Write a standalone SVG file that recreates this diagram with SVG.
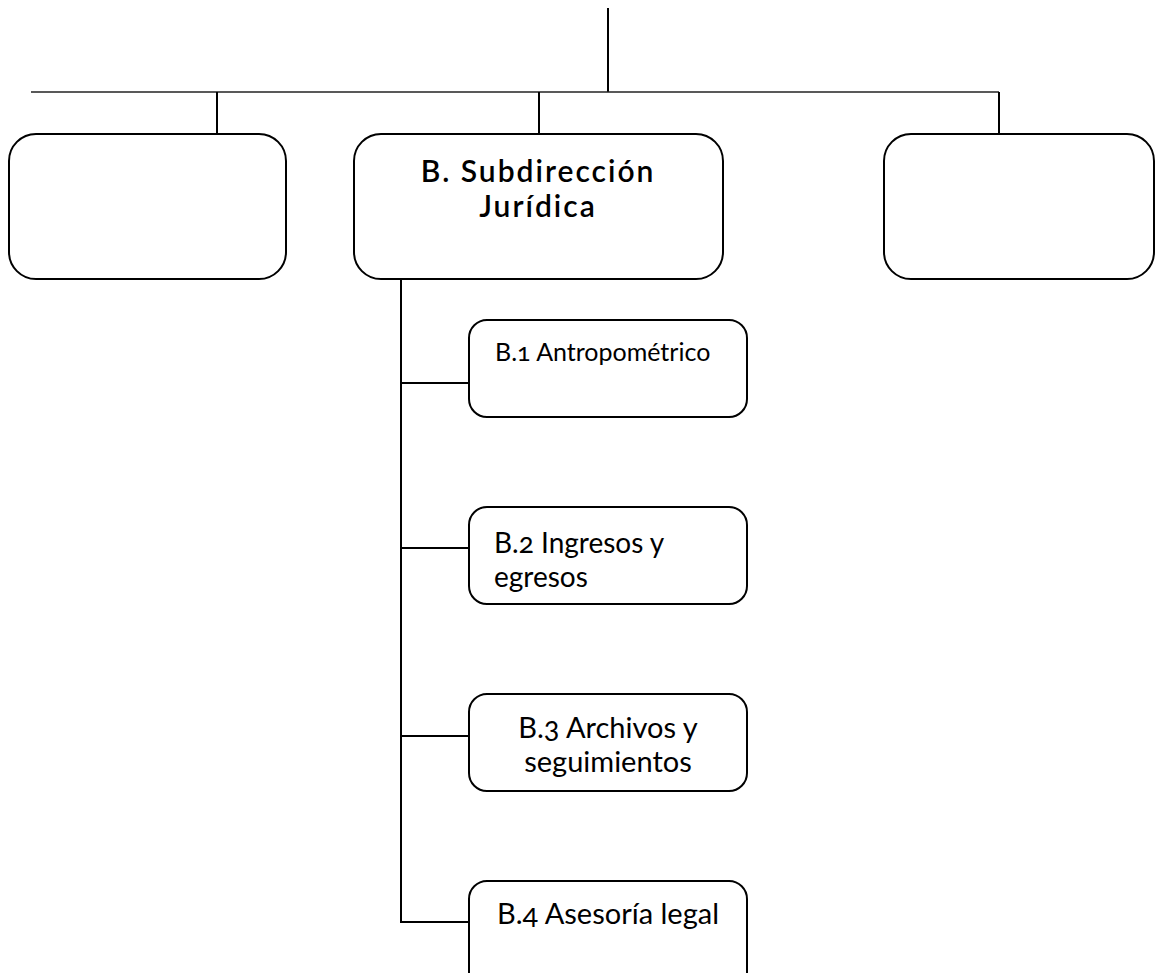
<svg xmlns="http://www.w3.org/2000/svg" width="1156" height="973" viewBox="0 0 1156 973">
  <style>
    .box { fill: #ffffff; stroke: #000000; stroke-width: 2; }
    .link { fill: none; stroke: #000000; stroke-width: 2; }
    .thin { fill: none; stroke: #222222; stroke-width: 1.6; }
    text { font-family: Lato, "Noto Sans", "Open Sans", sans-serif; fill: #000000; font-variant-numeric: oldstyle-nums; font-feature-settings: "onum" 1; }
    .title { font-size: 30px; font-weight: 600; letter-spacing: 2px; text-anchor: middle; }
    .sub { font-size: 29px; }
    .sub2 { font-size: 28px; }
    .small { font-size: 25px; }
    .mid { text-anchor: middle; }
  </style>

  <!-- connectors -->
  <g id="connectors">
    <line class="link" x1="608" y1="8" x2="608" y2="92"/>
    <line class="thin" x1="31" y1="92" x2="999" y2="92"/>
    <line class="link" x1="217" y1="92" x2="217" y2="134"/>
    <line class="link" x1="539" y1="92" x2="539" y2="141"/>
    <line class="link" x1="999" y1="92" x2="999" y2="134"/>
    <polyline class="link" points="401,279 401,922 469,922"/>
    <line class="link" x1="401" y1="383" x2="469" y2="383"/>
    <line class="link" x1="401" y1="548" x2="469" y2="548"/>
    <line class="link" x1="401" y1="736" x2="469" y2="736"/>
  </g>

  <!-- top-level units -->
  <g id="unit-left">
    <rect class="box" x="9" y="134" width="277" height="145" rx="27"/>
  </g>
  <g id="unit-b">
    <rect class="box" x="354" y="134" width="369" height="145" rx="27"/>
    <text class="title" x="538" y="182">B. Subdirección</text>
    <text class="title" x="538" y="217">Jurídica</text>
  </g>
  <g id="unit-right">
    <rect class="box" x="884" y="134" width="270" height="145" rx="27"/>
  </g>

  <!-- departments under B -->
  <g id="b1">
    <rect class="box" x="469" y="320" width="278" height="97" rx="18"/>
    <text class="small" x="495" y="361">B.1 Antropométrico</text>
  </g>
  <g id="b2">
    <rect class="box" x="469" y="507" width="278" height="97" rx="18"/>
    <text class="sub2" x="494" y="553">B.2 Ingresos y</text>
    <text class="sub2" x="494" y="587">egresos</text>
  </g>
  <g id="b3">
    <rect class="box" x="469" y="694" width="278" height="97" rx="18"/>
    <text class="sub mid" x="608" y="738">B.3 Archivos y</text>
    <text class="sub mid" x="608" y="772">seguimientos</text>
  </g>
  <g id="b4">
    <rect class="box" x="469" y="881" width="278" height="120" rx="18"/>
    <text class="sub mid" x="608" y="924">B.4 Asesoría legal</text>
  </g>
</svg>
